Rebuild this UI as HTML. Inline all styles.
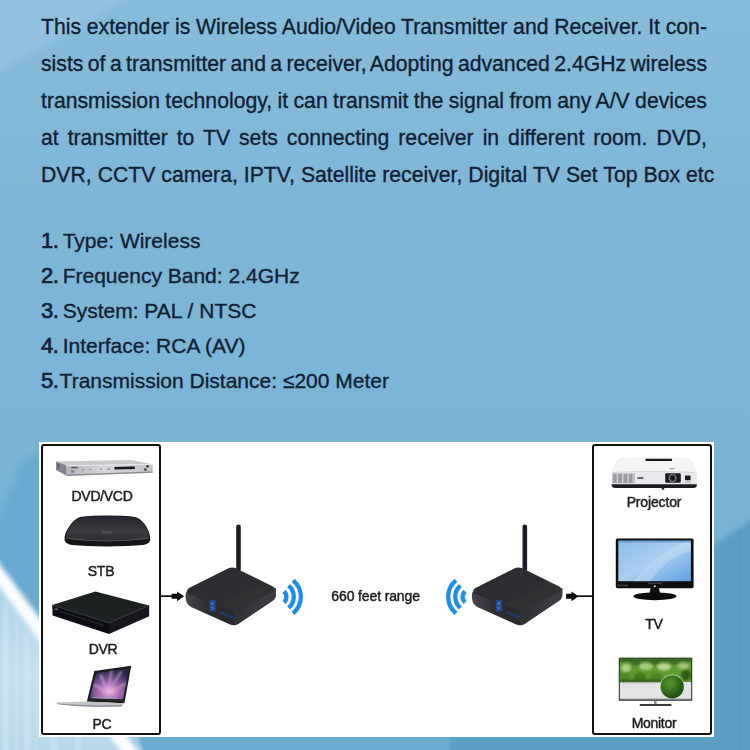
<!DOCTYPE html>
<html>
<head>
<meta charset="utf-8">
<style>
html,body{margin:0;padding:0;}
body{width:750px;height:750px;overflow:hidden;position:relative;background:#7fb6d6;font-family:"Liberation Sans",sans-serif;color:#0e2135;}
#bg{position:absolute;left:0;top:0;width:750px;height:750px;}
.para{position:absolute;left:41px;top:7.5px;-webkit-text-stroke:0.33px #0e2135;width:700px;font-size:21.2px;line-height:37px;}
.para div{white-space:nowrap;height:37px;}
.list{position:absolute;left:41px;top:222.6px;-webkit-text-stroke:0.33px #0e2135;font-size:21px;line-height:35px;white-space:nowrap;}
.list div{height:35px;}
.list b{font-weight:normal;font-size:22px;display:inline-block;width:21.7px;-webkit-text-stroke:0.65px #0e2135;letter-spacing:-0.6px;}
#panel{position:absolute;left:39px;top:442px;width:675px;height:295px;background:#fff;}
.box{position:absolute;top:2px;width:116px;height:287px;border:2px solid #111;border-radius:3px;background:#fff;}
#lbox{left:2px;}
#rbox{left:553px;}
.lbl{position:absolute;font-size:14px;color:#1c1c1e;-webkit-text-stroke:0.45px #1c1c1e;filter:blur(0.35px);white-space:nowrap;transform:translateX(-50%);letter-spacing:-0.3px;}
#dia{position:absolute;left:0;top:0;width:750px;height:750px;}
</style>
</head>
<body>
<svg id="bg" viewBox="0 0 750 750">
<defs>
<linearGradient id="bgv" x1="0" y1="0" x2="0" y2="1">
<stop offset="0" stop-color="#86bcd9"/>
<stop offset="0.27" stop-color="#7fb6d6"/>
<stop offset="0.6" stop-color="#7bb4d5"/>
<stop offset="1" stop-color="#74afd0"/>
</linearGradient>
<linearGradient id="llight" x1="0" y1="0" x2="0" y2="1">
<stop offset="0" stop-color="#a9d0e8"/>
<stop offset="0.5" stop-color="#c2dff0"/>
<stop offset="1" stop-color="#b2d5ea"/>
</linearGradient>
<linearGradient id="sg" gradientUnits="userSpaceOnUse" x1="0" y1="574" x2="-24" y2="592"><stop offset="0" stop-color="#fff" stop-opacity="0"/><stop offset="1" stop-color="#fff" stop-opacity="1"/></linearGradient>
<filter id="b6" x="-20%" y="-20%" width="140%" height="140%"><feGaussianBlur stdDeviation="5"/></filter>
<filter id="b3" x="-20%" y="-20%" width="140%" height="140%"><feGaussianBlur stdDeviation="3"/></filter>
<filter id="b25" x="-20%" y="-20%" width="140%" height="140%"><feGaussianBlur stdDeviation="2.4"/></filter>
<filter id="b1" x="-20%" y="-20%" width="140%" height="140%"><feGaussianBlur stdDeviation="1.2"/></filter>
</defs>
<rect width="750" height="750" fill="url(#bgv)"/>
<!-- top-left lighter wedge -->
<polygon points="-20,-20 159,-20 -20,82.5" fill="#91c3df" filter="url(#b3)"/>
<!-- right darker region -->
<polygon points="700,553 760,514.6 760,760 448,760 436,700 700,700" fill="#5d9ec5" filter="url(#b25)"/>
<polygon points="120,725 450,725 450,760 120,760" fill="#6dacd0" filter="url(#b1)"/>
<!-- bottom-left darker blue above the streak -->
<polygon points="22,462 45,448 45,632 -10,562 -10,535" fill="#69a9cf" filter="url(#b6)"/>
<!-- bottom-left light region -->
<polygon points="-10,566 150,782 -10,782" fill="url(#llight)"/>
<polygon points="118,730 136,730 146,760 138,760" fill="#9cc8e3" filter="url(#b1)"/>
<clipPath id="lclip"><polygon points="-10,580 150,796 -10,796"/></clipPath>
<g clip-path="url(#lclip)" fill="url(#sg)" filter="url(#b1)">
<rect x="3" y="560" width="6" height="200" opacity="0.22"/>
<rect x="15" y="560" width="4" height="200" opacity="0.16"/>
<rect x="24" y="560" width="7" height="200" opacity="0.2"/>
<rect x="35" y="560" width="3" height="200" opacity="0.14"/>
<rect x="50" y="730" width="8" height="30" opacity="0.18"/>
<rect x="75" y="730" width="6" height="30" opacity="0.15"/>
</g>
<g fill="#4f90bb" filter="url(#b1)" opacity="0.2">
<rect x="721" y="545" width="3" height="210"/>
<rect x="730" y="535" width="2" height="220"/>
<rect x="738" y="530" width="4" height="220"/>
<rect x="746" y="525" width="2" height="230"/>
</g>
<!-- white streak -->
<polygon points="-10,551 -10,574 150,790 150,767" fill="#ffffff" opacity="0.97" filter="url(#b25)"/>
</svg>
<div class="para">
<div style="word-spacing:-0.15px">This extender is Wireless Audio/Video Transmitter and Receiver. It con-</div>
<div style="word-spacing:-1.47px">sists of a transmitter and a receiver, Adopting advanced 2.4GHz wireless</div>
<div style="word-spacing:-0.49px">transmission technology, it can transmit the signal from any A/V devices</div>
<div style="word-spacing:3.09px">at transmitter to TV sets connecting receiver in different room. DVD,</div>
<div style="word-spacing:0.12px">DVR, CCTV camera, IPTV, Satellite receiver, Digital TV Set Top Box etc</div>
</div>
<div class="list">
<div><b>1.</b>Type: Wireless</div>
<div><b>2.</b>Frequency Band: 2.4GHz</div>
<div><b>3.</b>System: PAL / NTSC</div>
<div><b>4.</b>Interface: RCA (AV)</div>
<div><b style="width:18.6px">5.</b>Transmission Distance: ≤200 Meter</div>
</div>
<div id="panel">
<div class="box" id="lbox"></div>
<div class="box" id="rbox"></div>
</div>
<svg id="dia" viewBox="0 0 750 750">
<defs>
<filter id="sf" x="-5%" y="-5%" width="110%" height="110%"><feGaussianBlur stdDeviation="0.45"/></filter>
<filter id="sf2" x="-10%" y="-10%" width="120%" height="120%"><feGaussianBlur stdDeviation="0.8"/></filter>
<linearGradient id="dvdf" x1="0" y1="0" x2="1" y2="0">
<stop offset="0" stop-color="#b4b4ba"/><stop offset="0.45" stop-color="#d6d6da"/><stop offset="1" stop-color="#c2c2c8"/>
</linearGradient>
<linearGradient id="stbg" x1="0" y1="0" x2="0" y2="1">
<stop offset="0" stop-color="#26272b"/><stop offset="0.6" stop-color="#3a3b40"/><stop offset="1" stop-color="#2c2d31"/>
</linearGradient>
<linearGradient id="tvs" x1="0" y1="0" x2="1" y2="1">
<stop offset="0" stop-color="#8fbdea"/><stop offset="0.5" stop-color="#a9cff0"/><stop offset="1" stop-color="#5f9fe0"/>
</linearGradient>
<radialGradient id="lap" cx="0.5" cy="0.75" r="0.7">
<stop offset="0" stop-color="#f0b8e0"/><stop offset="0.35" stop-color="#b070b8"/><stop offset="0.8" stop-color="#4a3a70"/><stop offset="1" stop-color="#2a2848"/>
</radialGradient>
<radialGradient id="ball" cx="0.4" cy="0.35" r="0.7">
<stop offset="0" stop-color="#5a9a30"/><stop offset="0.6" stop-color="#2f6a18"/><stop offset="1" stop-color="#1c4210"/>
</radialGradient>
<linearGradient id="rtop" x1="0" y1="0" x2="1" y2="1">
<stop offset="0" stop-color="#2a2a2d"/><stop offset="1" stop-color="#333337"/>
</linearGradient>
<linearGradient id="rleft" x1="0" y1="0" x2="1" y2="0">
<stop offset="0" stop-color="#46464b"/><stop offset="0.25" stop-color="#2e2e32"/><stop offset="1" stop-color="#232326"/>
</linearGradient>
<linearGradient id="rright" x1="0" y1="0" x2="1" y2="0">
<stop offset="0" stop-color="#303034"/><stop offset="1" stop-color="#3f3f44"/>
</linearGradient>
<g id="router">
<!-- antenna -->
<rect x="51.2" y="0.5" width="4.6" height="47" rx="2.3" fill="#1d1d20"/>
<!-- body sides -->
<path d="M2,67 Q0,69 0.8,75 Q1.5,80.5 6,83 L45,100.5 Q49,102 53,100 L88,76.5 Q91,74 91,70 L91,64 L49,86 Z" fill="url(#rleft)"/>
<path d="M49,86 L91,64 L91,70 Q91,74 88,76.5 L53,100 Q50.5,101.5 48.5,101.2 Z" fill="url(#rright)"/>
<!-- top -->
<path d="M4,64 L43,44.5 Q47,42.6 51,44.3 L88,62.4 Q92,65 88.5,67.8 L53,86 Q49.5,87.6 46,86 L4,70 Q0,67 4,64 Z" fill="url(#rtop)"/>
<!-- led -->
<rect x="24.3" y="76" width="6.4" height="11.5" rx="1" fill="#23478f"/>
<rect x="25.8" y="78" width="3.2" height="3.2" fill="#3468c4"/>
<rect x="25.8" y="83" width="3.2" height="2.6" fill="#3468c4"/>
<path d="M35.5,88.5 L48,93.5" stroke="#24396a" stroke-width="2.6"/>
</g>
<g id="wifi" fill="none" stroke="#1b8fe9" stroke-width="4.3">
<path d="M4.6,-5.5 A7.2,7.2 0 0 1 4.6,5.5"/>
<path d="M9.3,-11.1 A14.5,14.5 0 0 1 9.3,11.1"/>
<path d="M13.8,-16.5 A21.5,21.5 0 0 1 13.8,16.5"/>
</g>
</defs>

<g filter="url(#sf)">
<!-- DVD player -->
<polygon points="56,461.5 131,460 152.7,464.2 66.6,465.6" fill="#c9c9ce"/>
<polygon points="56,461.5 66.6,465.6 66.6,475.7 56,470" fill="#85858c"/>
<polygon points="66.6,465.6 152.7,464.2 152.7,472.5 66.6,475.7" fill="url(#dvdf)"/>
<polygon points="66.6,474.6 152.7,471.6 152.7,472.7 66.6,475.9" fill="#8a8a90"/>
<polygon points="66.6,465.3 152.7,463.9 152.7,464.7 66.6,466.1" fill="#f2f2f4"/>
<polygon points="114.5,466.9 134.8,466.5 134.8,468.9 114.5,469.4" fill="#15151a"/>
<rect x="71.2" y="466.9" width="6.6" height="1.4" fill="#55555c"/>
<circle cx="147.6" cy="466.3" r="1.3" fill="#33333a"/>
<circle cx="145.4" cy="469.6" r="1.4" fill="#44444a"/>
<rect x="57.5" y="463.6" width="2" height="5" fill="#5c5c64"/>
<rect x="71" y="470.7" width="3.5" height="1.8" fill="#777780"/>
<g fill="#9a9aa2"><rect x="82" y="469.2" width="2.2" height="1.2"/><rect x="89" y="469" width="2.2" height="1.2"/><rect x="100" y="468.6" width="2.2" height="1.2"/><rect x="107" y="468.3" width="3" height="1.6"/></g>

<!-- STB -->
<path d="M64.6,540 Q64.3,533 69,527 Q73.5,519.5 80,517 Q86,515.4 107,515.4 Q130,515.4 136,517.2 Q142.5,519.8 146.5,527 Q150.4,533.5 150.2,540 Q150,543.5 143,545 Q128,546.4 107,546.4 Q86,546.4 72,545 Q65,543.6 64.6,540 Z" fill="#121316"/>
<path d="M65.6,537.5 Q66,532.5 69.6,527.4 Q74,520 80.5,517.6 Q86.5,516.2 107,516.2 Q129.5,516.2 135.5,517.9 Q142,520.4 146,527.4 Q149.2,533 149.2,537.5 Q148,539 140,539.6 Q125,540.6 107,540.6 Q88,540.6 74,539.6 Q66.5,539 65.6,537.5 Z" fill="url(#stbg)"/>
<path d="M66.5,538.2 Q86,541 107,541 Q128,541 148.5,538.2" fill="none" stroke="#5b5c62" stroke-width="0.9"/>
<rect x="102" y="531" width="10" height="2.6" fill="#54555b" opacity="0.8"/>

<!-- DVR -->
<polygon points="52.2,605 95.4,591.6 149.2,605.4 109,622.8" fill="#1f2023"/>
<polygon points="52.2,605 109,622.8 109,634 52.6,615.4" fill="#0f1012"/>
<polygon points="109,622.8 149.2,605.4 149.2,616.2 109,634" fill="#18191c"/>
<polyline points="52.2,605 109,622.8 149.2,605.4" fill="none" stroke="#34353a" stroke-width="0.8"/>
<rect x="54.5" y="608.5" width="3.6" height="1.6" fill="#6a6b72"/>
<polygon points="60,611 104,625 104,626 60,612" fill="#2a2b30"/>

<!-- Laptop -->
<polygon points="94.3,671 131.2,665.8 124.4,703.2 86.8,701.8" fill="#1b1b1f"/>
<polygon points="96.2,673 129,668.4 123,699.4 89.6,698.6" fill="url(#lap)"/>
<g opacity="0.5" fill="#f6d4ee" filter="url(#sf2)"><polygon points="108,693 99,675 102,674.6"/><polygon points="108,693 110,671 113,670.6"/><polygon points="108,693 120,671 123,671.5"/><polygon points="108,693 94,686 94.6,683.6"/><polygon points="108,693 126,682 125.6,685"/></g>
<polygon points="89.6,698.6 123,699.4 122.6,701.4 89,700.6" fill="#26262b"/>
<polygon points="93,697 118,697.6 118,698.6 93,698" fill="#9aa0b8"/>
<path d="M55,702.6 L87,701.6 L124.4,703.2 L121.5,706.3 Q105,707 90,706.6 Q70,706 60,704.8 Z" fill="#c3c4c9"/>
<path d="M57,704 Q75,706.4 95,706.8 L121.5,706.4 L122.5,705.2 L95,705.6 Q75,705 57,703.4 Z" fill="#84858c"/>

<!-- arrows -->
<rect x="160" y="595.3" width="14" height="1.7" fill="#111"/>
<polygon points="171.6,593.8 177,593.8 177,591.4 184.2,596.3 177,601.2 177,598.8 171.6,598.8" fill="#0c0c0c"/>
<rect x="577" y="595.3" width="16" height="1.7" fill="#111"/>
<polygon points="566,593.8 571.4,593.8 571.4,591.4 578.6,596.3 571.4,601.2 571.4,598.8 566,598.8" fill="#0c0c0c"/>

<!-- routers -->
<use href="#router" x="185" y="524"/>
<use href="#router" x="471.3" y="524"/>
<use href="#wifi" transform="translate(279.3 596.8)"/>
<use href="#wifi" transform="translate(469.7 596.8) scale(-1 1)"/>

<!-- Projector -->
<path d="M611.7,473 Q612,470 614,467 Q617,459.5 621,458.3 Q630,457.4 654,457.4 Q680,457.4 687.5,458.3 Q691.5,459.5 694.5,467 Q696.6,470.5 696.8,473 L696.8,485 Q696.5,487.8 693,487.8 L615.5,487.8 Q612,487.8 611.7,485 Z" fill="#e9e9eb"/>
<path d="M612.2,472.6 Q612.6,470 614.4,467 Q617.4,460 621.2,458.9 Q630,458 654,458 Q680,458 687.3,458.9 Q691,460 694,467 Q696,470.4 696.2,472.6 Q680,471.4 654,471.4 Q628,471.4 612.2,472.6 Z" fill="#f4f4f5"/>
<path d="M611.7,484.2 L696.8,484.2 L696.8,485.4 Q696.5,487.9 693,487.9 L615.5,487.9 Q612,487.9 611.7,485.4 Z" fill="#1e1e22"/>
<path d="M612,472.8 Q628,471.4 654,471.4 Q680,471.4 696.5,472.8" fill="none" stroke="#c8c8cc" stroke-width="0.7"/>
<rect x="645.6" y="458.7" width="26.4" height="2.3" rx="0.5" fill="#17171b"/>
<rect x="612.6" y="473.6" width="22" height="9.6" fill="#9b9ba0"/>
<g fill="#cfcfd3"><rect x="616.6" y="473.6" width="1.5" height="9.6"/><rect x="622" y="473.6" width="1.5" height="9.6"/><rect x="627.4" y="473.6" width="1.5" height="9.6"/><rect x="632.6" y="473.6" width="1.2" height="9.6"/></g>
<rect x="637.4" y="477.2" width="6" height="1.8" fill="#55555c"/>
<rect x="665.2" y="473.2" width="15.6" height="9.6" rx="1.2" fill="#1b1b1f"/>
<circle cx="672.6" cy="478" r="3.6" fill="#2c2c31" stroke="#8b8b92" stroke-width="1"/>
<circle cx="672.6" cy="478" r="1.5" fill="#0a0a0c"/>
<rect x="685" y="475.6" width="5.6" height="4.6" rx="0.6" fill="#1a1a1e"/>
<rect x="684.4" y="481.4" width="6.6" height="1.2" fill="#b5b5ba"/>
<ellipse cx="663" cy="488.8" rx="1.4" ry="1" fill="#222"/>
<ellipse cx="672" cy="468.6" rx="3" ry="0.9" fill="#aaaab0"/>

<!-- TV -->
<rect x="615.8" y="538.4" width="77.8" height="49.8" rx="1.6" fill="#0d0d10"/>
<rect x="618.3" y="540.6" width="72.6" height="40.6" fill="url(#tvs)"/>
<path d="M634,581.2 Q648,562 672,548 Q682,543 690.9,541 L690.9,551 Q668,556 650,581.2 Z" fill="#c4dff6" opacity="0.45"/>
<rect x="618.3" y="540.6" width="72.6" height="2" fill="#4f86c4" opacity="0.55"/>
<rect x="617" y="584.6" width="11" height="1.6" fill="#3c3c42"/>
<circle cx="654.8" cy="586.2" r="1" fill="#e8e8f0"/>
<rect x="648" y="582.8" width="14" height="0.9" fill="#55555c"/>
<path d="M650.6,588 L659,588 L660.4,595 L649.2,595 Z" fill="#111114"/>
<ellipse cx="654.9" cy="596.3" rx="21.6" ry="3.9" fill="#08080a"/>

<!-- Monitor -->
<rect x="618.8" y="657.8" width="73.4" height="43" rx="0.8" fill="#25262a"/>
<rect x="619.8" y="658.6" width="71.4" height="23.2" fill="#5f9a32"/>
<rect x="619.8" y="681.8" width="71.4" height="16.6" fill="#e2e3e4"/>
<rect x="619.8" y="698.4" width="71.4" height="1.0" fill="#f4f4f4"/>
<g filter="url(#sf2)">
<rect x="619.8" y="658.6" width="71.4" height="3" fill="#2c5a1a"/>
<ellipse cx="626" cy="668" rx="5" ry="4" fill="#a8cf80"/>
<ellipse cx="646" cy="666.5" rx="7" ry="3.6" fill="#a6cc7e"/>
<ellipse cx="664" cy="667" rx="7" ry="3.4" fill="#b4d690"/>
<ellipse cx="683" cy="666" rx="6" ry="3.2" fill="#9cc574"/>
<ellipse cx="636" cy="663" rx="5" ry="2.4" fill="#3a7020"/>
<ellipse cx="655" cy="662.4" rx="5" ry="2.2" fill="#35691c"/>
<ellipse cx="675" cy="662.6" rx="5" ry="2.2" fill="#3d7322"/>
<ellipse cx="625" cy="676.6" rx="5.4" ry="4.6" fill="#4d8a26"/>
<ellipse cx="640" cy="676.8" rx="6" ry="4.4" fill="#3f7a1e"/>
<ellipse cx="656" cy="677" rx="6" ry="4.2" fill="#4a8624"/>
<ellipse cx="686" cy="675" rx="5" ry="5.4" fill="#2d5c18"/>
<rect x="619.8" y="679.6" width="42" height="2.4" fill="#2a5516"/>
</g>
<circle cx="672.2" cy="686.8" r="12.2" fill="#cfe6b8"/>
<circle cx="672.2" cy="686.8" r="11.6" fill="url(#ball)"/>
<rect x="654" y="700.8" width="2.6" height="3.4" fill="#8a8b90"/>
<rect x="639.6" y="703.9" width="32" height="2.2" rx="0.8" fill="#3a3b40"/>
</g>
</svg>
<div class="lbl" style="left:102px;top:488px;">DVD/VCD</div>
<div class="lbl" style="left:101px;top:563px;">STB</div>
<div class="lbl" style="left:103px;top:641px;">DVR</div>
<div class="lbl" style="left:102px;top:716px;">PC</div>
<div class="lbl" style="left:654px;top:494px;letter-spacing:-0.15px">Projector</div>
<div class="lbl" style="left:654px;top:616px;">TV</div>
<div class="lbl" style="left:654px;top:715px;">Monitor</div>
<div class="lbl" style="left:375.6px;top:588px;letter-spacing:-0.13px">660 feet range</div>
</body>
</html>
